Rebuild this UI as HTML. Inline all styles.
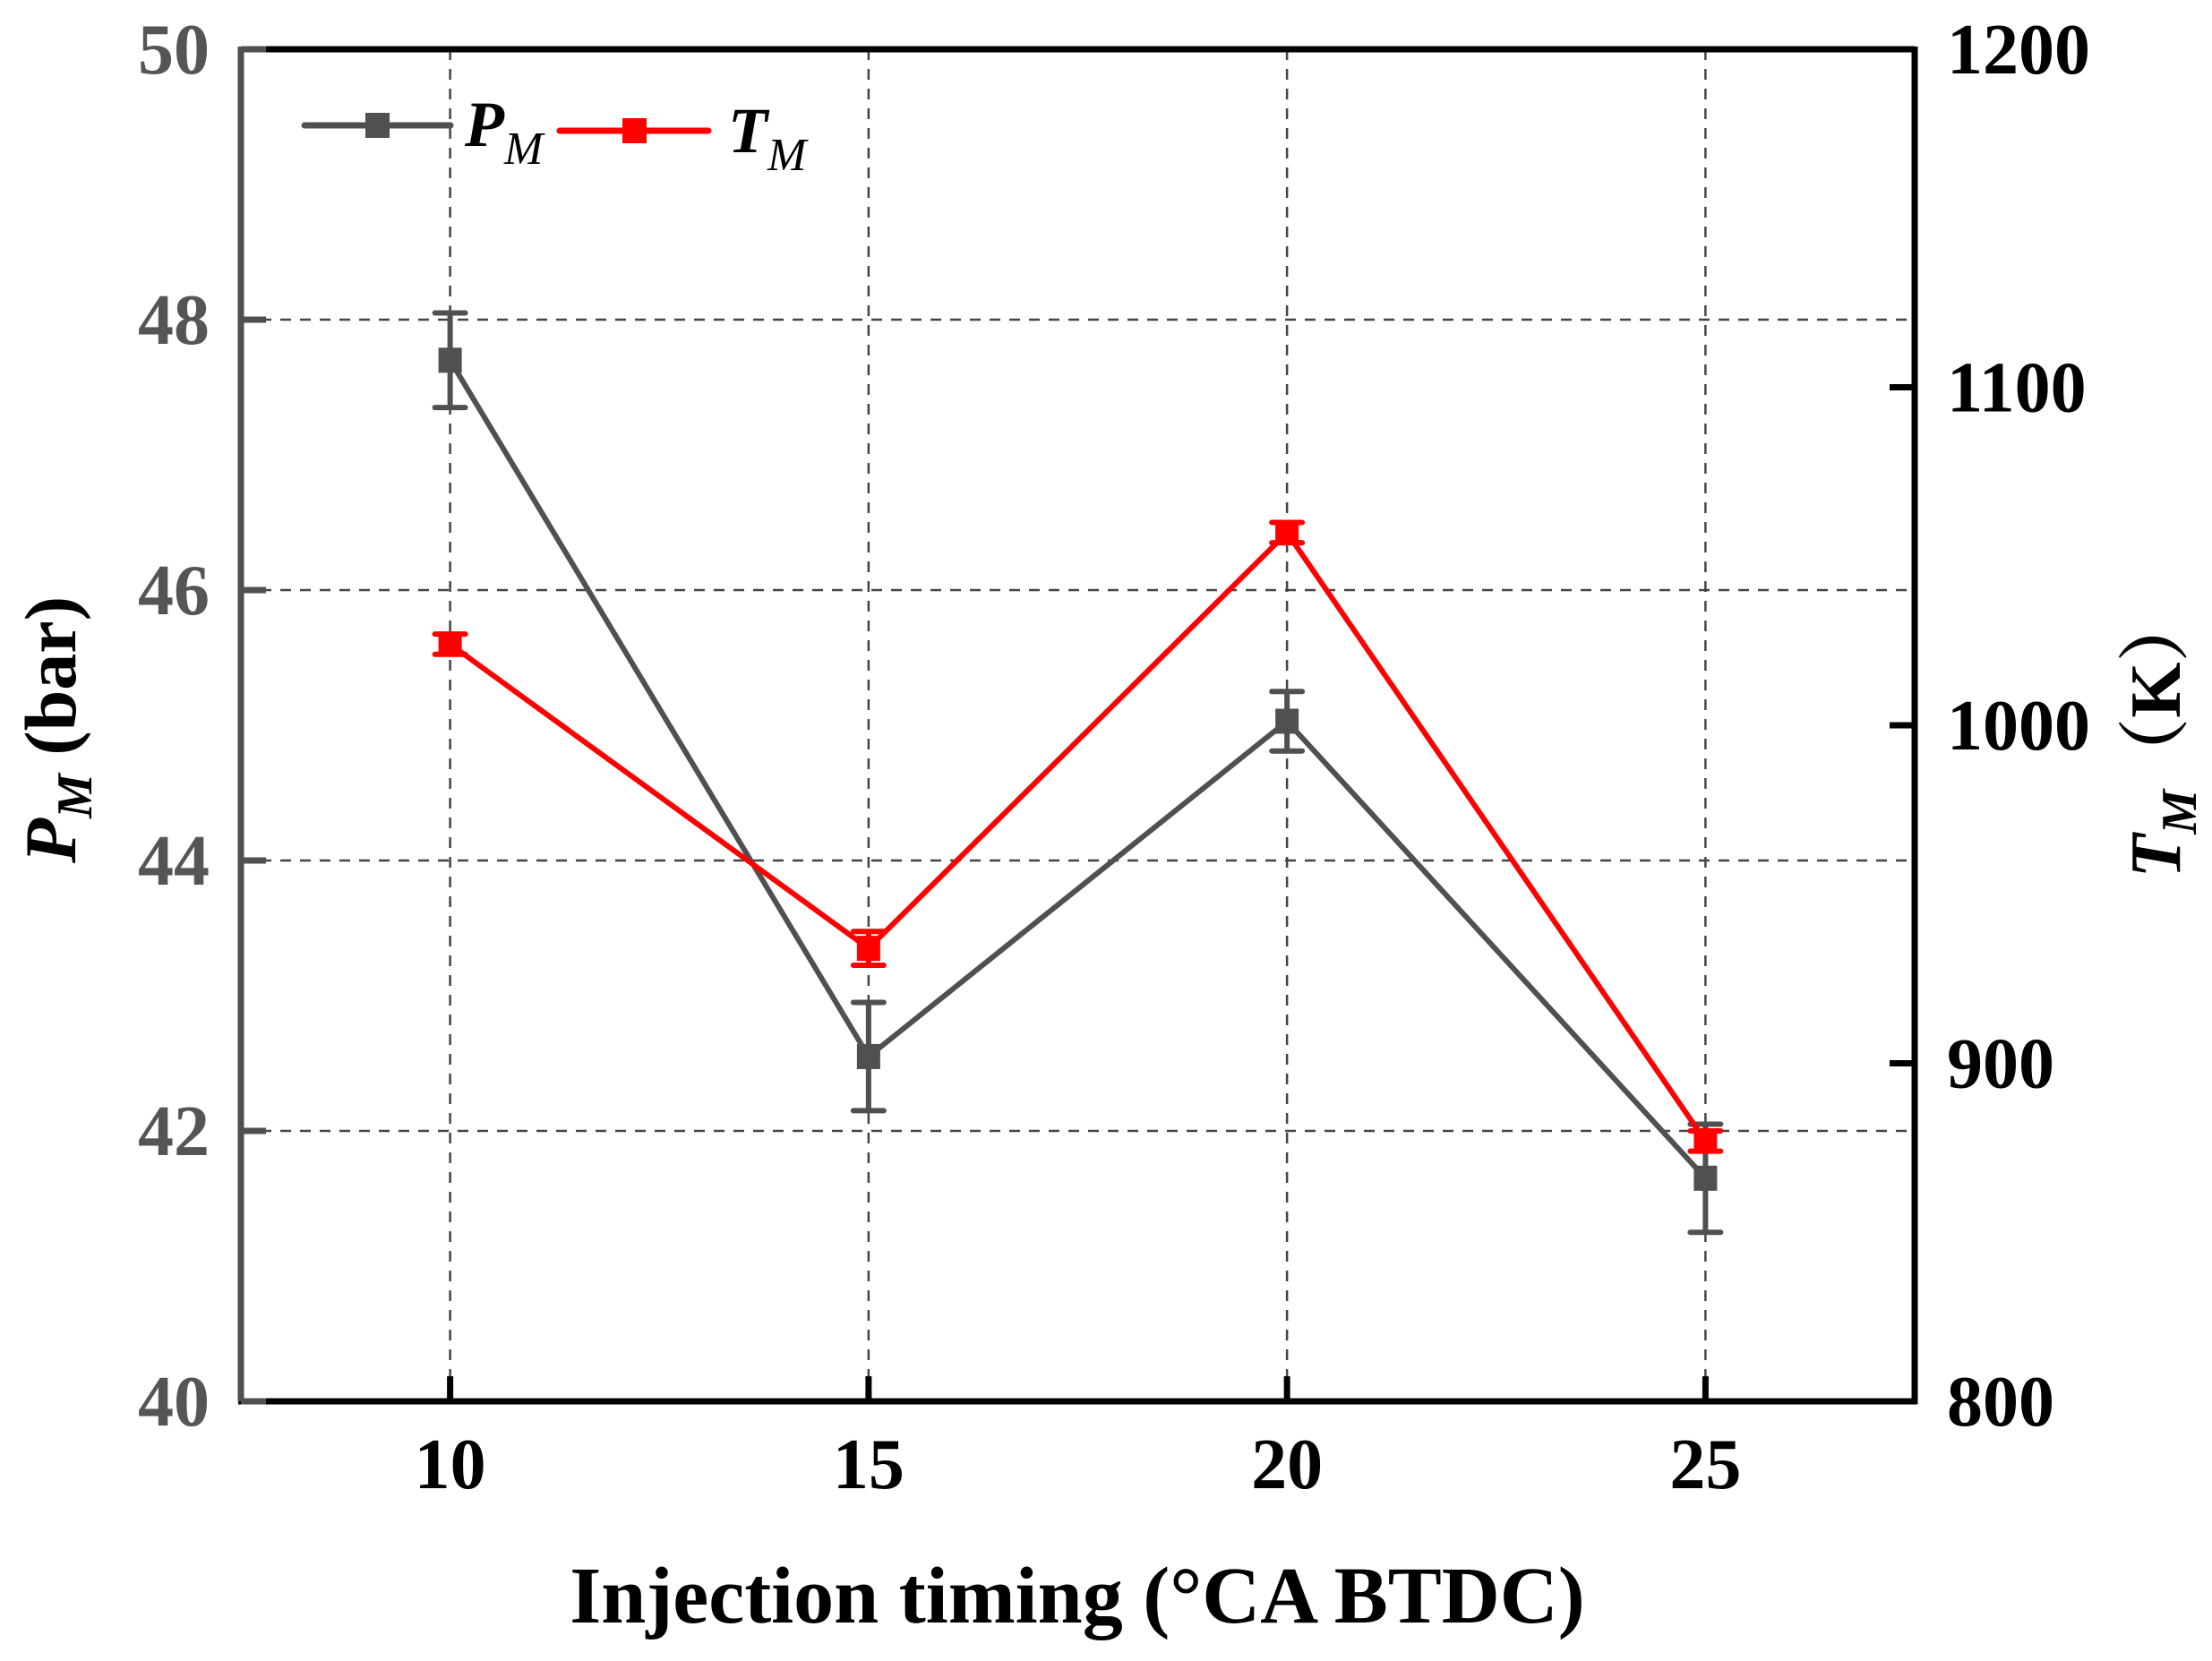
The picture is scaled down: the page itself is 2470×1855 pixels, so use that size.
<!DOCTYPE html>
<html><head><meta charset="utf-8"><style>
html,body{margin:0;padding:0;background:#fff;}
svg{display:block;font-family:"Liberation Serif","Noto Serif CJK SC",serif;font-weight:bold;}
</style></head><body>
<svg width="2470" height="1855" viewBox="0 0 2470 1855">
<g id="grid"></g>
<g id="series"></g>
<g id="axes"></g>
<g>
  <line x1="340" y1="140" x2="503" y2="140" stroke="#505050" stroke-width="7" stroke-linecap="round"/>
  <rect x="408" y="126" width="27" height="28" fill="#505050"/>
  <text x="519" y="163" font-size="72" font-style="italic">P<tspan font-size="52" dy="20" font-weight="normal">M</tspan></text>
  <line x1="625" y1="146" x2="791" y2="146" stroke="#ff0000" stroke-width="7" stroke-linecap="round"/>
  <rect x="695" y="132" width="27" height="28" fill="#ff0000"/>
  <text x="813" y="170" font-size="72" font-style="italic">T<tspan font-size="52" dy="20" font-weight="normal">M</tspan></text>
</g>
<text x="1203" y="1812" font-size="90" text-anchor="middle">Injection timing (°CA BTDC)</text>
<text transform="translate(84,815) rotate(-90)" font-size="82" text-anchor="middle"><tspan font-style="italic">P</tspan><tspan font-style="italic" font-size="56" dy="18">M</tspan><tspan dy="-18">  (bar)</tspan></text>
<text transform="translate(2434,820) rotate(-90)" font-size="80" text-anchor="middle"><tspan font-style="italic">T</tspan><tspan font-style="italic" font-size="56" dy="18">M</tspan><tspan dy="-18">（K）</tspan></text>
</svg>
<script>
const categories=[10,15,20,25];
const pmValues=[47.7,42.55,45.03,41.65];
const pmErrors=[0.35,0.4,0.22,0.4];
const tmValues=[1024,934,1057,877];
const tmErrors=[3,5,3,3];
const xTicks=[10,15,20,25];
const leftTicks=[40,42,44,46,48,50];
const rightTicks=[800,900,1000,1100,1200];

const L=269,R=2138,T=55,B=1565;
const xMin=7.5,xMax=27.5;
const xS=v=>L+(v-xMin)/(xMax-xMin)*(R-L);
const yL=v=>B-(v-40)/(50-40)*(B-T);
const yR=v=>B-(v-800)/(1200-800)*(B-T);
const NS='http://www.w3.org/2000/svg';
function mk(parent,tag,attrs){const e=document.createElementNS(NS,tag);for(const k in attrs)e.setAttribute(k,attrs[k]);document.getElementById(parent).appendChild(e);return e;}

xTicks.forEach(v=>{
  const g=mk('grid','line',{x1:xS(v),x2:xS(v),y1:T,y2:B,stroke:'#444',"stroke-width":2.5,"stroke-dasharray":"12 10"});
  
  
});
leftTicks.slice(1,-1).forEach(v=>{
  const g=mk('grid','line',{x1:L,x2:R,y1:yL(v),y2:yL(v),stroke:'#444',"stroke-width":2.5,"stroke-dasharray":"12 10"});
  
  
});

function drawSeries(vals,errs,yf,color,name){
  const pts=categories.map((c,i)=>xS(c)+','+yf(vals[i])).join(' ');
  const pl=mk('series','polyline',{points:pts,fill:'none',stroke:color,"stroke-width":6,"stroke-linejoin":'round'});
  
  
  categories.forEach((c,i)=>{
    const x=xS(c),y1=yf(vals[i]+errs[i]),y2=yf(vals[i]-errs[i]);
    const eb=mk('series','path',{d:`M${x},${y1}V${y2}M${x-17},${y1}H${x+17}M${x-17},${y2}H${x+17}`,stroke:color,"stroke-width":6,"stroke-linecap":'round',fill:'none'});
    
    
    const m=mk('series','rect',{x:x-13,y:yf(vals[i])-14,width:26,height:28,fill:color});
    
    
  });
}
drawSeries(pmValues,pmErrors,yL,'#505050','pm');
drawSeries(tmValues,tmErrors,yR,'#ff0000','tm');

let a;
a=mk('axes','line',{x1:L,x2:R,y1:T,y2:T,stroke:'#000',"stroke-width":7});

a=mk('axes','line',{x1:L-3,x2:R+3,y1:B,y2:B,stroke:'#000',"stroke-width":7});

a=mk('axes','line',{x1:L,x2:L,y1:T-3,y2:B,stroke:'#505050',"stroke-width":7});

a=mk('axes','line',{x1:R,x2:R,y1:T-3,y2:B+3,stroke:'#000',"stroke-width":7});


xTicks.forEach(v=>{
  const t=mk('axes','line',{x1:xS(v),x2:xS(v),y1:B,y2:B-28,stroke:'#000',"stroke-width":7});
  
  const l=mk('axes','text',{x:xS(v),y:1662,"font-size":80,"text-anchor":'middle',fill:'#000'});
  l.textContent=v;
  
});
leftTicks.forEach(v=>{
  const t=mk('axes','line',{x1:L,x2:L+28,y1:yL(v),y2:yL(v),stroke:'#505050',"stroke-width":7});
  
  const l=mk('axes','text',{x:234,y:yL(v)+27,"font-size":80,"text-anchor":'end',fill:'#555'});
  l.textContent=v;
  
});
rightTicks.forEach(v=>{
  const t=mk('axes','line',{x1:R,x2:R-28,y1:yR(v),y2:yR(v),stroke:'#000',"stroke-width":7});
  
  const l=mk('axes','text',{x:2174,y:yR(v)+27,"font-size":80,"text-anchor":'start',fill:'#000'});
  l.textContent=v;
  
});
</script>
</body></html>
